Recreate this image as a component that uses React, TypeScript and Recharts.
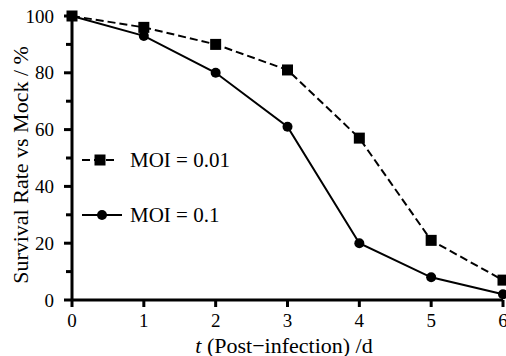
import React from "react";
import { LineChart, Line, XAxis, YAxis, Legend } from "recharts";

const days = [0, 1, 2, 3, 4, 5, 6];
const moi001 = [100, 96, 90, 81, 57, 21, 7];
const moi01 = [100, 93, 80, 61, 20, 8, 2];
const yTicks = [0, 10, 20, 30, 40, 50, 60, 70, 80, 90, 100];
const xTicks = [0, 1, 2, 3, 4, 5, 6];
const seriesNames = ["MOI = 0.01", "MOI = 0.1"];

const data = days.map((d, i) => ({ day: d, a: moi001[i], b: moi01[i] }));

const FONT = "'Liberation Serif', 'DejaVu Serif', serif";

const YTick = (props: any) => {
  const { x, y, payload } = props;
  const axisX = x + 8 + 0;
  const v = payload.value;
  const major = v % 20 === 0;
  return (
    <g>
      <line x1={axisX - (major ? 8 : 6)} x2={axisX} y1={y} y2={y} stroke="#000" strokeWidth={3} />
      {major && (
        <text x={axisX - 18} y={y} textAnchor="end" dominantBaseline="central" fontFamily={FONT} fontSize={19} fill="#000">
          {v}
        </text>
      )}
    </g>
  );
};

const XTick = (props: any) => {
  const { x, y, payload } = props;
  const axisY = y - 6;
  return (
    <g>
      <line x1={x} x2={x} y1={axisY} y2={axisY + 7} stroke="#000" strokeWidth={3} />
      <text x={x} y={axisY + 20} textAnchor="middle" dominantBaseline="central" fontFamily={FONT} fontSize={19} fill="#000">
        {payload.value}
      </text>
    </g>
  );
};

const SquareDot = (props: any) => {
  const { cx, cy, index } = props;
  return <rect key={`s${index}`} x={cx - 5.5} y={cy - 5.5} width={11} height={11} fill="#000" />;
};

const CircleDot = (props: any) => {
  const { cx, cy, index } = props;
  return <circle key={`c${index}`} cx={cx} cy={cy} r={5} fill="#000" />;
};

const LegendContent = () => (
  <svg width={170} height={85}>
    <line x1={4} x2={40} y1={15} y2={15} stroke="#000" strokeWidth={2} strokeDasharray="8 4" />
    <rect x={16.5} y={9.5} width={11} height={11} fill="#000" />
    <text x={52} y={15} dominantBaseline="central" fontFamily={FONT} fontSize={21} fill="#000">
      {seriesNames[0]}
    </text>
    <line x1={4} x2={44} y1={70} y2={70} stroke="#000" strokeWidth={2} />
    <circle cx={24} cy={70} r={5} fill="#000" />
    <text x={52} y={70} dominantBaseline="central" fontFamily={FONT} fontSize={21} fill="#000">
      {seriesNames[1]}
    </text>
  </svg>
);

export default function App() {
  return (
    <div style={{ position: "absolute", left: 0, top: 0, background: "#fff" }}>
      <LineChart width={506} height={356} data={data} margin={{ top: 16, right: 3, bottom: 0, left: 0 }}>
        <XAxis
          dataKey="day"
          type="number"
          domain={[0, 6]}
          ticks={xTicks}
          interval={0}
          height={56}
          tickSize={6}
          tickMargin={0}
          tickLine={false}
          axisLine={{ stroke: "#000", strokeWidth: 3 }}
          tick={<XTick />}
          label={{
            content: () => (
              <text x={284} y={345} textAnchor="middle" dominantBaseline="central" fontFamily={FONT} fontSize={22} fill="#000">
                <tspan fontStyle="italic">t</tspan> (Post−infection) /d
              </text>
            ),
          }}
        />
        <YAxis
          type="number"
          domain={[0, 100]}
          ticks={yTicks}
          interval={0}
          width={72}
          tickSize={8}
          tickMargin={0}
          tickLine={false}
          axisLine={{ stroke: "#000", strokeWidth: 3 }}
          tick={<YTick />}
          label={{
            content: () => (
              <text x={20} y={165} transform="rotate(-90 20 165)" textAnchor="middle" dominantBaseline="central" fontFamily={FONT} fontSize={22} fill="#000">
                Survival Rate vs Mock / %
              </text>
            ),
          }}
        />
        <Legend
          layout="vertical"
          verticalAlign="middle"
          align="center"
          content={<LegendContent />}
          wrapperStyle={{ position: "absolute", left: 78, top: 145, width: 170, height: 85 }}
        />
        <Line dataKey="a" stroke="#000" strokeWidth={2} strokeDasharray="8 4" dot={<SquareDot />} isAnimationActive={false} />
        <Line dataKey="b" stroke="#000" strokeWidth={2} dot={<CircleDot />} isAnimationActive={false} />
      </LineChart>
    </div>
  );
}
